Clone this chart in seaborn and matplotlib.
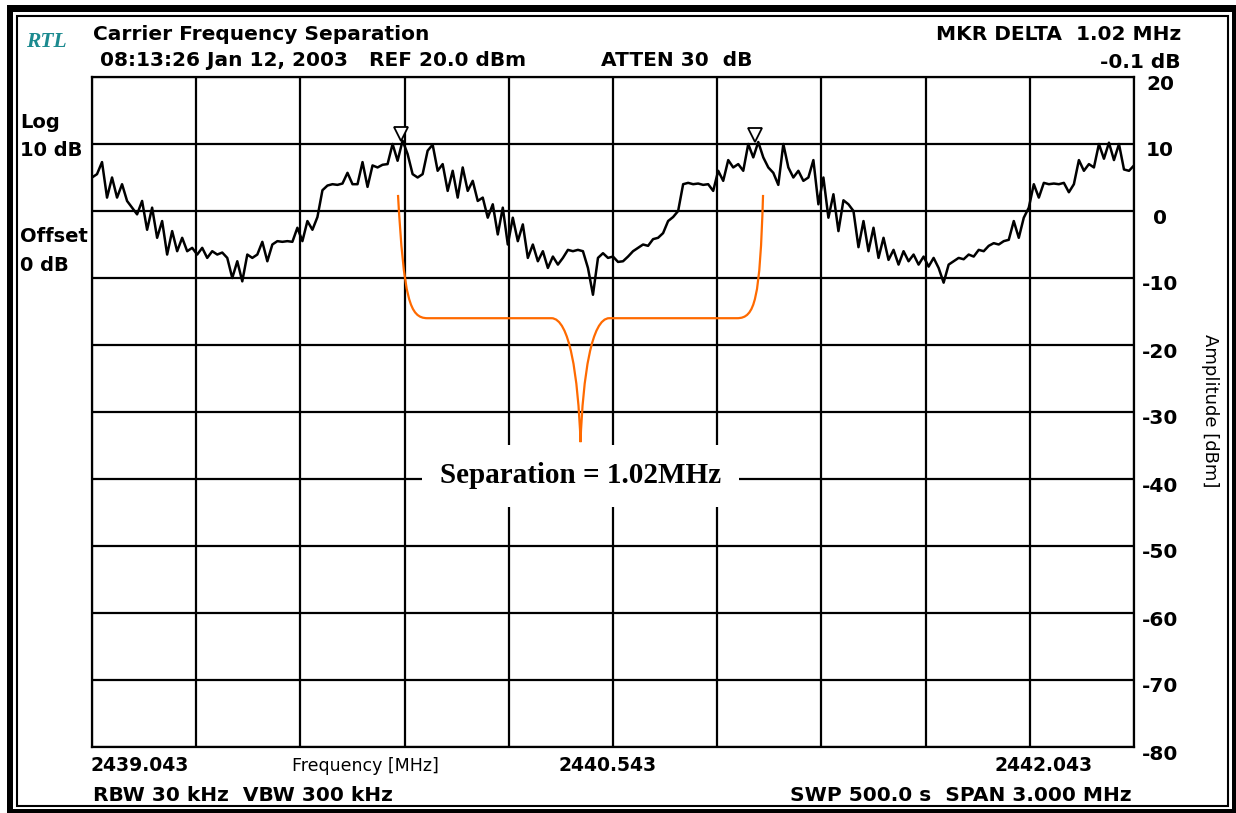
import numpy as np
import pandas as pd
import matplotlib
matplotlib.use("Agg")
import matplotlib.pyplot as plt
import seaborn as sns
from matplotlib.patches import Rectangle, PathPatch
from matplotlib.path import Path
import matplotlib.transforms as mtransforms

# ---------------- data ----------------
start_mhz = 2439.043
stop_mhz = 2442.043
center_mhz = 2440.543
amp_ticks = [20, 10, 0, -10, -20, -30, -40, -50, -60, -70, -80]
amp_tick_labels = ["20", "10", "0", "-10", "-20", "-30", "-40", "-50", "-60", "-70", "-80"]
freq_labels = ["2439.043", "2440.543", "2442.043"]

trace_dbm = [
    5.0, 5.5, 7.3, 2.0, 5.0, 2.0, 4.0, 1.5, 0.5, -0.5,
    1.5, -2.8, 0.5, -4.0, -1.5, -6.5, -3.0, -6.0, -4.0, -6.0,
    -5.5, -6.5, -5.5, -7.0, -6.0, -6.5, -6.2, -7.0, -10.0, -7.5,
    -10.5, -6.5, -7.0, -6.5, -4.6, -7.5, -5.0, -4.5, -4.6, -4.5,
    -4.6, -2.5, -4.5, -1.5, -2.8, -0.9, 3.1, 3.8, 4.0, 3.9,
    4.1, 5.7, 4.0, 4.0, 7.3, 3.6, 6.8, 6.5, 6.9, 7.0,
    10.0, 7.5, 10.5, 8.5, 5.5, 5.0, 5.5, 9.0, 9.9, 6.0,
    7.0, 3.0, 6.0, 2.0, 6.5, 3.0, 4.5, 1.5, 2.0, -1.0,
    1.0, -3.5, 0.5, -5.0, -1.0, -4.5, -2.0, -7.0, -5.0, -7.5,
    -6.0, -8.5, -6.8, -8.0, -7.0, -5.8, -6.0, -5.8, -6.0, -8.5,
    -12.5, -7.0, -6.3, -7.0, -6.8, -7.6, -7.5, -6.8, -6.0, -5.5,
    -5.0, -5.2, -4.2, -4.0, -3.3, -1.5, -0.9, 0.0, 4.0, 4.2,
    4.0, 4.1, 3.9, 4.0, 3.0, 6.0, 4.5, 7.6, 6.5, 7.0,
    6.0, 10.0, 8.0, 10.3, 8.0, 6.5, 5.7, 3.9, 10.0, 6.5,
    5.0, 6.0, 4.5, 5.0, 7.6, 1.0, 5.0, -1.0, 2.5, -3.0,
    1.6, 1.0, 0.0, -5.4, -1.5, -6.0, -2.5, -7.0, -4.0, -7.3,
    -5.8, -8.0, -6.0, -7.5, -6.5, -8.0, -6.8, -8.3, -7.0, -8.5,
    -10.7, -8.0, -7.5, -7.0, -7.2, -6.5, -6.8, -5.8, -6.0, -5.2,
    -4.8, -5.0, -4.5, -4.3, -1.5, -4.0, -1.0, 0.5, 4.0, 2.0,
    4.2, 4.0, 4.1, 4.0, 4.2, 2.8, 4.0, 7.6, 6.0, 7.0,
    6.5, 10.0, 7.8, 10.2, 7.6, 10.0, 6.2, 6.0, 6.8,
]
marker_mhz = [2439.933, 2440.953]
marker_dbm = [10.4, 10.3]
brace_top_dbm = 2.4
brace_bar_dbm = -16.0
brace_tip_dbm = -34.5
separation_text = "Separation = 1.02MHz"

freq_mhz = np.linspace(start_mhz, stop_mhz, len(trace_dbm))
df = pd.DataFrame({"freq": freq_mhz, "amp": trace_dbm})

# ---------------- style ----------------
sns.set_theme(style="white")
plt.rcParams["font.family"] = ["DejaVu Sans"]
plt.rcParams["text.color"] = "black"
W, H = 1236, 813
fig = plt.figure(figsize=(W / 100, H / 100), dpi=100)
fig.patch.set_facecolor("white")

def fx(px):
    return px / W

def fy(py):
    return 1 - py / H

# double frame
fig.patches.append(Rectangle((fx(7), 0), fx(W) - fx(7), fy(5), transform=fig.transFigure,
                             facecolor="black", edgecolor="none", zorder=-10))
fig.patches.append(Rectangle((fx(13), fy(809)), fx(1232) - fx(13), fy(12) - fy(809),
                             transform=fig.transFigure, facecolor="white", edgecolor="none", zorder=-9))
fig.patches.append(Rectangle((fx(16.5), fy(806)), fx(1228.5) - fx(16.5), fy(16) - fy(806),
                             transform=fig.transFigure, facecolor="none", edgecolor="black",
                             linewidth=1.5, zorder=-8))

ax = fig.add_axes([fx(92), fy(747), fx(1134) - fx(92), fy(77) - fy(747)])
ax.set_facecolor("white")

sns.lineplot(data=df, x="freq", y="amp", ax=ax, color="black", linewidth=1.8,
             errorbar=None, legend=False, zorder=4)

ax.set_xlim(start_mhz, stop_mhz)
ax.set_ylim(-80, 20)
ax.set_xticks(np.linspace(start_mhz, stop_mhz, 11))
ax.set_yticks(amp_ticks)
ax.set_xticklabels([])
ax.set_yticklabels([])
ax.tick_params(length=0)
ax.grid(True, color="black", linewidth=1.6)
ax.set_axisbelow(True)
for s in ax.spines.values():
    s.set_color("black")
    s.set_linewidth(1.6)
ax.set_xlabel("")
ax.set_ylabel("")

# right-side amplitude labels
ytrans = mtransforms.blended_transform_factory(ax.transAxes, ax.transData)
off = mtransforms.ScaledTranslation(0, -7 / 100, fig.dpi_scale_trans)
for v, lab in zip(amp_ticks, amp_tick_labels):
    ax.text(1 + 26 / 1042, v, lab, transform=ytrans + off, ha="center", va="center",
            fontsize=14.5, fontweight="bold", color="black", clip_on=False)

# markers
mk_off = mtransforms.offset_copy(ax.transData, fig=fig, x=0, y=7, units="dots")
ax.plot(marker_mhz, marker_dbm, linestyle="none", marker="v", markersize=10,
        markerfacecolor="white", markeredgecolor="black", markeredgewidth=1.3,
        transform=mk_off, zorder=5, clip_on=False)

# orange brace
fL = marker_mhz[0] - 0.009
fR = marker_mhz[1] + 0.022
fM = (fL + fR) / 2
verts = [
    (fL, brace_top_dbm),
    (fL + 0.017, brace_bar_dbm + 2.7), (fL + 0.034, brace_bar_dbm), (fL + 0.085, brace_bar_dbm),
    (fM - 0.084, brace_bar_dbm),
    (fM - 0.032, brace_bar_dbm), (fM - 0.007, brace_bar_dbm - 8.5), (fM, brace_tip_dbm),
    (fM + 0.007, brace_bar_dbm - 8.5), (fM + 0.032, brace_bar_dbm), (fM + 0.083, brace_bar_dbm),
    (fR - 0.075, brace_bar_dbm),
    (fR - 0.023, brace_bar_dbm), (fR - 0.009, brace_bar_dbm + 2.7), (fR, brace_top_dbm),
]
codes = [Path.MOVETO,
         Path.CURVE4, Path.CURVE4, Path.CURVE4,
         Path.LINETO,
         Path.CURVE4, Path.CURVE4, Path.CURVE4,
         Path.CURVE4, Path.CURVE4, Path.CURVE4,
         Path.LINETO,
         Path.CURVE4, Path.CURVE4, Path.CURVE4]
ax.add_patch(PathPatch(Path(verts, codes), facecolor="none", edgecolor="#ff6a00",
                       linewidth=1.6, zorder=3))

ax.text(fM, -39.5, separation_text, ha="center", va="center", fontsize=21,
        fontweight="bold", family="Liberation Serif", color="black", zorder=6,
        bbox=dict(boxstyle="square,pad=0.6", facecolor="white", edgecolor="none"))

# header / footer text
hdr = dict(fontsize=14.5, fontweight="bold", va="baseline", color="black")
fig.text(fx(26), fy(47), "RTL", fontsize=15.5, fontstyle="italic", fontweight="bold",
         family="Liberation Serif", color="#1b8a8f", ha="left", va="baseline")
fig.text(fx(93), fy(40), "Carrier Frequency Separation", ha="left", **hdr)
fig.text(fx(100), fy(66), "08:13:26 Jan 12, 2003   REF 20.0 dBm", ha="left", **hdr)
fig.text(fx(601), fy(66), "ATTEN 30  dB", ha="left", **hdr)
fig.text(fx(1181), fy(40), "MKR DELTA  1.02 MHz", ha="right", **hdr)
fig.text(fx(1181), fy(68), "-0.1 dB", ha="right", **hdr)

lbl = dict(fontsize=14, fontweight="bold", ha="left", va="baseline", color="black")
fig.text(fx(20), fy(128), "Log", **lbl)
fig.text(fx(20), fy(156), "10 dB", **lbl)
fig.text(fx(20), fy(242), "Offset", **lbl)
fig.text(fx(20), fy(271), "0 dB", **lbl)

fl = dict(fontsize=13.5, fontweight="bold", va="baseline", color="black")
fig.text(fx(90), fy(771), freq_labels[0], ha="left", **fl)
fig.text(fx(608), fy(771), freq_labels[1], ha="center", **fl)
fig.text(fx(1093), fy(771), freq_labels[2], ha="right", **fl)
fig.text(fx(365), fy(771), "Frequency [MHz]", fontsize=12.5, ha="center", va="baseline",
         color="black")

fig.text(fx(93), fy(801), "RBW 30 kHz  VBW 300 kHz", ha="left", **hdr)
fig.text(fx(1132), fy(801), "SWP 500.0 s  SPAN 3.000 MHz", ha="right", **hdr)

fig.text(fx(1210), fy(411), "Amplitude [dBm]", fontsize=13, rotation=270,
         ha="center", va="center", color="black")

fig.savefig("out.png", dpi=100, facecolor="white")
